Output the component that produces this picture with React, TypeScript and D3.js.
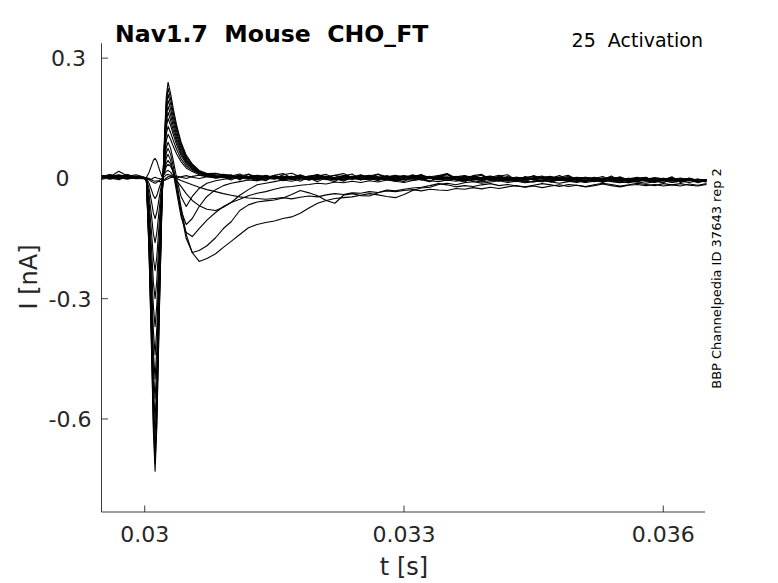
import React from "react";
import * as d3 from "d3";

// ---- time grid (ms after 0.030 s) ----
const TIME_MS = [
  -0.5, -0.4, -0.3, -0.2, -0.1, 0,
  0.02, 0.05, 0.08, 0.1, 0.12, 0.14, 0.17, 0.2, 0.23, 0.25, 0.27, 0.3, 0.33, 0.37, 0.42, 0.48, 0.55, 0.63, 0.72, 0.82, 0.91,
  1.0, 1.1, 1.2, 1.3, 1.4, 1.5, 1.6, 1.7,
  1.8, 1.9, 2.0, 2.1, 2.2, 2.3, 2.4, 2.5,
  2.6, 2.7, 2.8, 2.9, 3.0, 3.1, 3.2, 3.3,
  3.4, 3.5, 3.6, 3.7, 3.8, 3.9, 4.0, 4.1,
  4.2, 4.3, 4.4, 4.5, 4.6, 4.7, 4.8, 4.9,
  5.0, 5.1, 5.2, 5.3, 5.4, 5.5, 5.6, 5.7,
  5.8, 5.9, 6.0, 6.1, 6.2, 6.3, 6.4, 6.5,
];

// ---- sweeps (current, nA) ----
const SWEEP_01 = [
  0.004, 0.010, 0.001, 0.007, 0.002, 0.001,
  -0.007, -0.183, -0.438, -0.628, -0.73, -0.62, -0.329, -0.058, 0.108, 0.204, 0.24, 0.211, 0.175, 0.132, 0.091, 0.058, 0.036, 0.02, 0.012, 0.009, 0.007,
  0.009, -0.004, 0.011, 0.003, -0.006, 0.008, 0.012, 0.001,
  -0.007, 0.004, 0.010, -0.002, -0.008, 0.006, 0.011, -0.003,
  0.002, 0.010, 0.005, -0.007, -0.001, 0.009, 0.002, -0.008,
  0.005, 0.011, -0.004, -0.009, 0.003, 0.008, -0.005, 0.006,
  0.009, -0.006, -0.002, 0.007, 0.0, -0.009, -0.002, 0.006,
  -0.005, -0.010, 0.003, -0.003, 0.006, -0.007, -0.011, 0.001,
  0.003, -0.008, -0.004, 0.004, -0.010, -0.003, -0.008, -0.005,
];
const SWEEP_02 = [
  0.001, 0.005, 0.009, 0.004, 0.003, 0.0,
  -0.007, -0.178, -0.426, -0.611, -0.71, -0.604, -0.32, -0.057, 0.101, 0.191, 0.225, 0.198, 0.164, 0.124, 0.086, 0.054, 0.034, 0.018, 0.009, 0.006, 0.005,
  0.004, 0.008, 0.003, 0.0, 0.006, 0.002, -0.003, 0.004,
  0.007, 0.002, -0.001, 0.004, 0.008, 0.003, -0.002, 0.001,
  0.005, 0.0, -0.004, 0.002, 0.006, 0.001, -0.003, 0.003,
  0.001, -0.002, 0.004, 0.007, 0.002, -0.003, 0.0, 0.005,
  -0.001, -0.005, 0.002, 0.004, -0.002, 0.001, 0.003, -0.004,
  -0.001, 0.002, -0.003, -0.006, 0.0, 0.002, -0.002, -0.005,
  -0.002, 0.002, -0.001, -0.006, -0.003, 0.0, -0.004, -0.005,
];
const SWEEP_03 = [
  0.006, 0.002, 0.005, 0.001, 0.004, 0.002,
  -0.007, -0.17, -0.408, -0.585, -0.68, -0.578, -0.306, -0.054, 0.095, 0.179, 0.21, 0.185, 0.153, 0.116, 0.08, 0.05, 0.032, 0.017, 0.01, 0.004, 0.006,
  0.003, -0.001, 0.004, 0.008, 0.005, 0.001, 0.004, -0.002,
  0.001, 0.005, 0.002, -0.003, 0.003, 0.007, 0.004, 0.0,
  -0.004, 0.001, 0.004, 0.008, 0.003, -0.001, 0.002, 0.005,
  -0.002, -0.005, 0.0, 0.003, 0.006, 0.001, -0.003, 0.002,
  0.004, 0.0, -0.004, -0.001, 0.003, 0.005, -0.002, -0.005,
  0.0, 0.003, -0.001, -0.004, 0.001, -0.003, -0.007, -0.002,
  0.0, -0.003, -0.006, -0.002, 0.001, -0.004, -0.006, -0.003,
];
const SWEEP_04 = [
  0.0, 0.004, 0.018, 0.006, 0.001, -0.001,
  -0.006, -0.16, -0.384, -0.55, -0.64, -0.544, -0.288, -0.051, 0.088, 0.166, 0.195, 0.172, 0.142, 0.107, 0.074, 0.047, 0.029, 0.016, 0.011, 0.008, 0.01,
  0.007, 0.003, 0.0, 0.005, 0.002, 0.006, 0.001, -0.003,
  0.002, 0.006, 0.009, 0.004, 0.0, 0.003, -0.002, 0.002,
  0.006, 0.003, -0.002, -0.004, 0.001, 0.005, 0.008, 0.003,
  0.0, 0.004, 0.001, -0.003, 0.002, 0.0, -0.004, 0.001,
  0.003, -0.002, -0.005, 0.0, 0.004, 0.002, -0.003, 0.001,
  -0.003, -0.006, -0.002, 0.001, -0.001, -0.004, 0.0, -0.003,
  -0.006, -0.002, 0.0, -0.003, -0.007, -0.004, -0.002, -0.004,
];
const SWEEP_05 = [
  0.005, 0.001, 0.004, 0.007, 0.002, 0.001,
  -0.006, -0.15, -0.36, -0.516, -0.6, -0.51, -0.27, -0.048, 0.081, 0.153, 0.18, 0.158, 0.131, 0.099, 0.068, 0.043, 0.027, 0.015, 0.008, 0.003, 0.004,
  0.002, 0.006, 0.004, -0.001, 0.003, 0.007, 0.002, 0.005,
  0.001, -0.003, 0.002, 0.005, 0.001, -0.002, 0.004, 0.008,
  0.003, 0.0, 0.004, 0.001, -0.003, 0.002, 0.006, 0.002,
  -0.002, -0.004, 0.001, 0.005, 0.003, -0.001, 0.002, -0.003,
  -0.005, 0.0, 0.003, -0.002, 0.001, 0.004, 0.0, -0.004,
  -0.002, 0.001, -0.004, -0.002, 0.002, -0.001, -0.005, -0.003,
  -0.001, -0.005, -0.003, 0.0, -0.004, -0.006, -0.002, -0.004,
];
const SWEEP_06 = [
  0.002, 0.006, 0.003, 0.0, 0.005, 0.0,
  -0.006, -0.138, -0.33, -0.473, -0.55, -0.468, -0.248, -0.044, 0.074, 0.14, 0.165, 0.145, 0.12, 0.091, 0.063, 0.04, 0.025, 0.014, 0.012, 0.013, 0.009,
  0.005, 0.001, -0.002, 0.003, 0.007, 0.003, 0.0, 0.004,
  0.006, 0.002, 0.004, 0.0, -0.004, 0.001, 0.005, 0.003,
  -0.001, 0.003, 0.006, 0.002, 0.004, -0.002, -0.001, 0.004,
  0.007, 0.002, -0.002, 0.001, -0.003, 0.002, 0.005, 0.0,
  -0.003, 0.001, -0.001, -0.004, 0.002, 0.0, -0.003, 0.002,
  0.001, -0.003, -0.005, -0.001, 0.002, -0.002, -0.004, 0.0,
  -0.003, -0.006, -0.002, -0.005, -0.001, -0.003, -0.005, -0.004,
];
const SWEEP_07 = [
  0.007, 0.003, 0.0, 0.004, 0.006, 0.002,
  -0.005, -0.125, -0.3, -0.43, -0.5, -0.425, -0.225, -0.04, 0.068, 0.128, 0.15, 0.132, 0.11, 0.083, 0.057, 0.036, 0.023, 0.012, 0.006, 0.002, 0.005,
  0.004, 0.0, 0.003, 0.006, 0.001, -0.002, 0.003, 0.005,
  0.0, 0.004, 0.007, 0.002, -0.001, 0.002, 0.0, 0.005,
  0.008, 0.004, 0.0, -0.003, 0.002, 0.0, 0.004, 0.002,
  -0.001, 0.003, 0.0, -0.004, -0.001, 0.003, 0.006, 0.001,
  -0.002, 0.002, 0.0, -0.003, -0.005, 0.0, 0.002, -0.001,
  -0.004, 0.0, 0.002, -0.002, -0.005, -0.003, 0.0, -0.002,
  -0.005, -0.001, -0.004, -0.006, -0.003, -0.001, -0.005, -0.004,
];
const SWEEP_08 = [
  0.003, 0.0, 0.006, 0.003, -0.001, 0.001,
  -0.004, -0.11, -0.264, -0.378, -0.44, -0.374, -0.198, -0.035, 0.059, 0.111, 0.13, 0.114, 0.095, 0.072, 0.049, 0.031, 0.02, 0.013, 0.01, 0.006, 0.004,
  0.003, 0.007, 0.002, 0.004, 0.0, 0.003, 0.006, 0.001,
  0.003, -0.002, 0.001, 0.004, 0.002, 0.006, 0.002, -0.003,
  0.0, 0.003, -0.001, 0.002, 0.005, 0.001, -0.002, 0.0,
  0.004, 0.001, -0.002, 0.002, 0.004, 0.0, -0.003, -0.005,
  0.0, 0.003, 0.001, -0.002, 0.002, -0.001, -0.004, 0.0,
  0.003, 0.0, -0.004, -0.002, 0.001, -0.003, -0.001, -0.005,
  -0.003, 0.0, -0.004, -0.002, -0.005, -0.003, -0.006, -0.004,
];
const SWEEP_09 = [
  -0.001, 0.004, 0.007, 0.002, 0.004, 0.0,
  -0.004, -0.093, -0.222, -0.318, -0.37, -0.315, -0.167, -0.03, 0.05, 0.094, 0.11, 0.097, 0.08, 0.061, 0.042, 0.026, 0.017, 0.009, 0.005, 0.001, 0.003,
  0.002, 0.005, 0.001, -0.003, 0.002, 0.004, 0.0, 0.003,
  0.005, 0.001, -0.002, 0.003, 0.0, -0.003, 0.001, 0.004,
  0.001, -0.002, 0.002, 0.006, 0.003, 0.0, -0.004, 0.001,
  0.003, 0.0, 0.005, 0.002, -0.002, -0.004, 0.0, 0.003,
  0.001, -0.003, 0.002, 0.005, 0.0, -0.002, -0.005, -0.001,
  0.002, -0.001, -0.004, 0.0, -0.003, -0.006, -0.002, 0.0,
  -0.004, -0.002, -0.005, -0.001, -0.003, -0.006, -0.004, -0.005,
];
const SWEEP_10 = [
  0.005, 0.009, 0.004, 0.001, 0.003, 0.002,
  -0.003, -0.075, -0.18, -0.258, -0.3, -0.255, -0.135, -0.024, 0.04, 0.077, 0.09, 0.075, 0.045, 0.0, -0.045, -0.07, -0.045, -0.025, -0.012, -0.006, -0.002,
  0.0, 0.004, 0.002, -0.002, 0.003, 0.006, 0.002, -0.001,
  0.003, 0.0, 0.004, 0.001, -0.003, 0.002, 0.005, 0.0,
  -0.002, 0.002, 0.0, 0.004, 0.007, 0.002, -0.001, 0.001,
  -0.003, 0.001, 0.004, 0.0, -0.002, 0.002, 0.0, -0.004,
  -0.001, 0.003, 0.0, -0.003, 0.001, 0.003, -0.002, -0.005,
  -0.002, 0.001, -0.002, -0.005, -0.001, 0.001, -0.003, -0.006,
  -0.002, -0.004, 0.0, -0.003, -0.006, -0.004, -0.002, -0.005,
];
const SWEEP_11 = [
  0.002, -0.002, 0.003, 0.006, 0.001, 0.0,
  -0.002, -0.058, -0.138, -0.198, -0.23, -0.196, -0.104, -0.018, 0.034, 0.064, 0.075, 0.06, 0.03, -0.02, -0.08, -0.115, -0.1, -0.07, -0.045, -0.028, -0.018,
  -0.012, -0.008, -0.004, -0.006, -0.002, 0.001, -0.003, 0.002,
  0.0, -0.004, -0.001, 0.003, 0.0, -0.003, 0.002, 0.004,
  0.0, -0.002, 0.003, 0.001, -0.004, -0.001, 0.002, 0.0,
  -0.003, 0.001, 0.004, 0.001, -0.002, -0.005, -0.001, 0.002,
  0.0, -0.004, -0.002, 0.001, -0.001, -0.005, -0.003, 0.0,
  -0.003, -0.006, -0.002, 0.0, -0.004, -0.002, -0.005, -0.007,
  -0.003, -0.001, -0.005, -0.003, -0.006, -0.004, -0.002, -0.005,
];
const SWEEP_12 = [
  0.006, 0.003, 0.008, 0.002, 0.0, 0.001,
  -0.002, -0.04, -0.096, -0.138, -0.16, -0.136, -0.072, -0.013, 0.027, 0.051, 0.06, 0.045, 0.015, -0.035, -0.095, -0.135, -0.145, -0.125, -0.104, -0.085, -0.07,
  -0.06, -0.052, -0.043, -0.037, -0.033, -0.027, -0.022, -0.02,
  -0.017, -0.015, -0.012, -0.014, -0.009, -0.011, -0.007, -0.01,
  -0.006, -0.009, -0.004, -0.007, -0.01, -0.005, -0.002, -0.006,
  -0.008, -0.004, -0.007, -0.003, -0.006, -0.009, -0.005, -0.002,
  -0.006, -0.003, -0.007, -0.009, -0.005, -0.008, -0.004, -0.007,
  -0.01, -0.006, -0.004, -0.008, -0.005, -0.009, -0.011, -0.007,
  -0.005, -0.009, -0.006, -0.01, -0.007, -0.004, -0.008, -0.006,
];
const SWEEP_13 = [
  0.0, 0.005, 0.002, -0.002, 0.003, 0.001,
  -0.001, -0.025, -0.06, -0.086, -0.1, -0.085, -0.045, -0.008, 0.02, 0.038, 0.045, 0.035, 0.015, -0.025, -0.085, -0.15, -0.185, -0.18, -0.168, -0.148, -0.125,
  -0.108, -0.08, -0.066, -0.059, -0.056, -0.054, -0.049, -0.04,
  -0.03, -0.036, -0.043, -0.055, -0.062, -0.042, -0.038, -0.043,
  -0.044, -0.036, -0.029, -0.031, -0.027, -0.024, -0.022, -0.018,
  -0.013, -0.016, -0.021, -0.018, -0.02, -0.016, -0.013, -0.018,
  -0.015, -0.019, -0.021, -0.017, -0.013, -0.016, -0.02, -0.015,
  -0.017, -0.02, -0.016, -0.012, -0.015, -0.019, -0.016, -0.012,
  -0.015, -0.018, -0.013, -0.016, -0.019, -0.014, -0.017, -0.013,
];
const SWEEP_14 = [
  0.004, 0.001, 0.005, 0.009, 0.004, 0.002,
  0.0, -0.012, -0.03, -0.043, -0.05, -0.043, -0.022, -0.004, 0.016, 0.03, 0.035, 0.03, 0.018, -0.01, -0.07, -0.14, -0.185, -0.207, -0.2, -0.188, -0.172,
  -0.157, -0.14, -0.123, -0.115, -0.11, -0.106, -0.1, -0.096,
  -0.087, -0.074, -0.062, -0.055, -0.05, -0.048, -0.046, -0.042,
  -0.038, -0.041, -0.045, -0.048, -0.04, -0.03, -0.024, -0.022,
  -0.015, -0.012, -0.016, -0.011, -0.008, -0.012, -0.009, -0.006,
  -0.01, -0.007, -0.011, -0.008, -0.005, -0.009, -0.012, -0.008,
  -0.006, -0.01, -0.007, -0.004, -0.008, -0.011, -0.007, -0.009,
  -0.012, -0.008, -0.005, -0.009, -0.007, -0.01, -0.006, -0.008,
];
const SWEEP_15 = [
  0.003, 0.007, 0.001, 0.004, 0.002, 0.0,
  0.003, 0.015, 0.033, 0.045, 0.05, 0.043, 0.022, 0.004, 0.012, 0.018, 0.02, 0.015, 0.006, -0.006, -0.02, -0.038, -0.055, -0.068, -0.077, -0.08, -0.072,
  -0.06, -0.042, -0.028, -0.016, -0.012, -0.008, -0.004, -0.007,
  -0.002, 0.001, -0.003, 0.002, -0.001, -0.004, 0.0, 0.003,
  -0.001, -0.004, 0.0, 0.003, -0.002, -0.005, -0.001, 0.002,
  -0.002, 0.001, -0.003, -0.006, -0.002, 0.001, -0.001, -0.004,
  -0.007, -0.003, 0.0, -0.002, -0.005, -0.001, -0.004, -0.006,
  -0.002, -0.005, -0.008, -0.004, -0.001, -0.003, -0.006, -0.003,
  -0.007, -0.004, -0.002, -0.006, -0.008, -0.005, -0.003, -0.006,
];
const SWEEP_16 = [
  -0.002, 0.002, 0.006, 0.003, 0.0, -0.001,
  0.0, -0.003, -0.008, -0.01, -0.012, -0.01, -0.005, 0.0, 0.005, 0.009, 0.01, 0.008, 0.004, 0.0, -0.005, -0.01, -0.016, -0.022, -0.028, -0.033, -0.038,
  -0.042, -0.046, -0.049, -0.05, -0.052, -0.05, -0.048, -0.051,
  -0.047, -0.044, -0.046, -0.041, -0.038, -0.04, -0.036, -0.037,
  -0.033, -0.035, -0.031, -0.033, -0.03, -0.028, -0.031, -0.027,
  -0.029, -0.03, -0.025, -0.027, -0.023, -0.026, -0.022, -0.025,
  -0.021, -0.018, -0.022, -0.019, -0.023, -0.019, -0.016, -0.02,
  -0.017, -0.021, -0.018, -0.014, -0.018, -0.021, -0.017, -0.015,
  -0.018, -0.015, -0.019, -0.016, -0.013, -0.017, -0.019, -0.015,
];
const SWEEP_17 = [
  0.007, 0.001, -0.003, 0.005, 0.009, 0.003,
  0.002, 0.0, -0.002, 0.001, 0.003, 0.001, -0.001, -0.003, -0.002, 0.001, 0.004, 0.006, 0.003, 0.001, 0.004, 0.007, 0.003, 0.0, 0.004, 0.006, 0.002,
  0.006, 0.011, 0.001, -0.006, 0.008, -0.001, 0.009, 0.013,
  0.004, -0.004, 0.006, 0.010, 0.0, -0.007, 0.003, 0.009,
  0.001, -0.006, 0.007, -0.002, -0.008, 0.004, 0.010, -0.001,
  0.007, 0.012, 0.001, -0.005, 0.004, -0.008, 0.003, 0.008,
  -0.002, -0.008, 0.005, -0.003, -0.009, 0.001, 0.007, -0.003,
  -0.008, 0.003, -0.004, -0.010, -0.002, 0.004, -0.006, -0.009,
  0.002, -0.007, -0.011, -0.002, -0.008, 0.001, -0.006, -0.009,
];
const SWEEP_18 = [
  -0.002, 0.008, 0.002, 0.010, 0.001, 0.0,
  -0.001, -0.003, -0.004, -0.006, -0.007, -0.006, -0.008, -0.007, -0.005, -0.003, -0.001, 0.002, 0.004, 0.006, 0.003, 0.0, 0.005, 0.008, 0.004, 0.001, 0.003,
  -0.004, 0.006, 0.010, 0.0, -0.005, 0.008, -0.006, 0.003,
  0.009, 0.001, -0.008, 0.002, 0.008, 0.012, 0.002, -0.004,
  0.006, 0.011, -0.002, -0.007, 0.004, 0.008, -0.003, -0.008,
  0.003, 0.009, 0.0, -0.005, 0.007, 0.010, -0.002, -0.007,
  0.004, -0.005, -0.009, 0.002, 0.006, -0.006, 0.003, 0.008,
  -0.003, -0.008, 0.0, 0.005, -0.006, -0.010, -0.001, 0.003,
  -0.006, -0.010, -0.003, 0.002, -0.009, -0.004, -0.011, -0.005,
];

const SWEEPS = [
  SWEEP_01, SWEEP_02, SWEEP_03, SWEEP_04, SWEEP_05, SWEEP_06, SWEEP_07, SWEEP_08, SWEEP_09,
  SWEEP_10, SWEEP_11, SWEEP_12, SWEEP_13, SWEEP_14, SWEEP_15, SWEEP_16, SWEEP_17, SWEEP_18,
];

const X_TICKS = [0.03, 0.033, 0.036];
const X_TICK_LABELS = ["0.03", "0.033", "0.036"];
const Y_TICKS = [0.3, 0, -0.3, -0.6];
const Y_TICK_LABELS = ["0.3", "0", "-0.3", "-0.6"];

const TITLE = "Nav1.7  Mouse  CHO_FT";
const PROTOCOL = "25  Activation";
const X_LABEL = "t [s]";
const Y_LABEL = "I [nA]";
const SIDE_NOTE = "BBP Channelpedia ID 37643 rep 2";

const W = 778;
const H = 583;
const FONT = "'DejaVu Sans', Verdana, sans-serif";
const AXIS_COLOR = "#262626";

export default function App() {
  const x = d3.scaleLinear().domain([0.0295, 0.0365]).range([101.5, 706.5]);
  const y = d3.scaleLinear().domain([-0.832, 0.337]).range([512, 43.3]);
  const x0 = x.range()[0];
  const yBottom = y.range()[0];
  const yTop = y.range()[1];

  const line = d3
    .line<[number, number]>()
    .x((d) => x(0.03 + d[0] / 1000))
    .y((d) => y(d[1]));

  const paths = SWEEPS.map((s) => {
    const n = Math.min(s.length, TIME_MS.length);
    const pts: [number, number][] = [];
    for (let i = 0; i < n; i++) pts.push([TIME_MS[i], s[i]]);
    return line(pts) || "";
  });

  const yLabelRight = (lab: string) =>
    lab === "0" ? 69.5 : lab.startsWith("-") ? 91.5 : 86;

  return (
    <svg
      width={W}
      height={H}
      style={{ position: "absolute", left: 0, top: 0, background: "#fff" }}
      fontFamily={FONT}
    >
      <rect x={0} y={0} width={W} height={H} fill="#fff" />
      <g>
        {paths.map((d, i) => (
          <path key={i} d={d} fill="none" stroke="#000" strokeWidth={1.1} strokeLinejoin="round" />
        ))}
      </g>
      {/* axes */}
      <line x1={x0} y1={yTop} x2={x0} y2={yBottom} stroke={AXIS_COLOR} strokeWidth={0.9} />
      <line x1={x0} y1={yBottom} x2={705} y2={yBottom} stroke={AXIS_COLOR} strokeWidth={0.9} />
      {X_TICKS.map((t, i) => (
        <g key={"xt" + i}>
          <line x1={x(t)} x2={x(t)} y1={yBottom} y2={yBottom - 6.5} stroke={AXIS_COLOR} strokeWidth={0.9} />
          <text x={x(t)} y={yBottom + 30} textAnchor="middle" fontSize={22} fill={AXIS_COLOR}>
            {X_TICK_LABELS[i]}
          </text>
        </g>
      ))}
      {Y_TICKS.map((t, i) => (
        <g key={"yt" + i}>
          <line x1={x0} x2={x0 + 6.5} y1={y(t)} y2={y(t)} stroke={AXIS_COLOR} strokeWidth={0.9} />
          <text
            x={yLabelRight(Y_TICK_LABELS[i])}
            y={y(t) + 8}
            textAnchor="end"
            fontSize={22}
            fill={AXIS_COLOR}
          >
            {Y_TICK_LABELS[i]}
          </text>
        </g>
      ))}
      <text x={404} y={575} textAnchor="middle" fontSize={24} fill={AXIS_COLOR}>
        {X_LABEL}
      </text>
      <text
        transform={`translate(37,277) rotate(-90)`}
        textAnchor="middle"
        fontSize={24}
        fill={AXIS_COLOR}
      >
        {Y_LABEL}
      </text>
      <text x={115} y={42} fontSize={23.6} fontWeight="bold" fill="#000" style={{ whiteSpace: "pre" }}>
        {TITLE}
      </text>
      <text x={703} y={47} textAnchor="end" fontSize={19} fill="#000" style={{ whiteSpace: "pre" }}>
        {PROTOCOL}
      </text>
      <text
        transform={`translate(721,278.5) rotate(-90)`}
        textAnchor="middle"
        fontSize={13}
        fill="#000"
      >
        {SIDE_NOTE}
      </text>
    </svg>
  );
}
